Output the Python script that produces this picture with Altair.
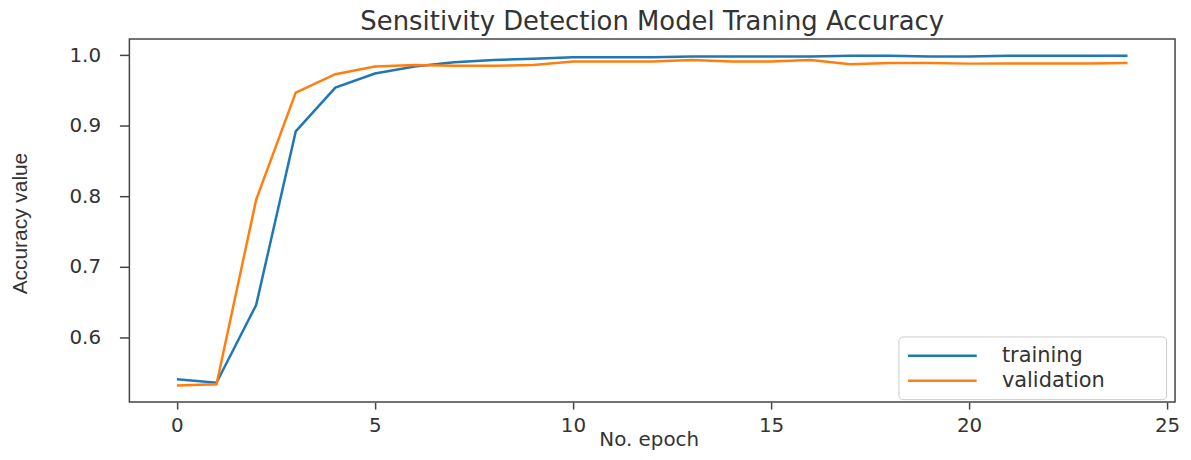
import altair as alt
import pandas as pd

epochs = [0, 1, 2, 3, 4, 5, 6, 7, 8, 9, 10, 11, 12, 13, 14, 15, 16, 17, 18, 19, 20, 21, 22, 23, 24]
training = [0.541, 0.536, 0.646, 0.892, 0.954, 0.974, 0.984, 0.990, 0.993, 0.995,
            0.997, 0.997, 0.997, 0.998, 0.998, 0.998, 0.998, 0.999, 0.999, 0.998,
            0.998, 0.999, 0.999, 0.999, 0.999]
validation = [0.532, 0.534, 0.795, 0.947, 0.973, 0.984, 0.986, 0.985, 0.985, 0.986,
              0.991, 0.991, 0.991, 0.993, 0.991, 0.991, 0.993, 0.987, 0.989, 0.989,
              0.988, 0.988, 0.988, 0.988, 0.989]
series_names = ["training", "validation"]
series_colors = ["#1f77b4", "#ff7f0e"]
x_ticks = [0, 5, 10, 15, 20, 25]
y_ticks = [0.6, 0.7, 0.8, 0.9, 1.0]

df = pd.concat([
    pd.DataFrame({"epoch": epochs, "acc": training, "series": "training"}),
    pd.DataFrame({"epoch": epochs, "acc": validation, "series": "validation"}),
])

TXT = "#333333"
FONT = "DejaVu Sans"
PAD = "\u00a0" * 8 + "\u200b"

chart = alt.Chart(df).mark_line(strokeWidth=2.5).encode(
    x=alt.X("epoch:Q",
            scale=alt.Scale(domain=[-1.2, 25.2], nice=False, zero=False),
            axis=alt.Axis(values=x_ticks, title="No. epoch", grid=False, domain=False,
                          tickSize=7, tickWidth=1.5, tickColor="#444",
                          labelPadding=7, labelFontSize=20, labelFont=FONT, labelColor=TXT,
                          titleFontSize=20, titleFont=FONT, titleColor=TXT,
                          titleFontWeight="normal", titleBaseline="alphabetic",
                          titleY=44, titleX=522)),
    y=alt.Y("acc:Q",
            scale=alt.Scale(domain=[0.5086, 1.0229], nice=False, zero=False),
            axis=alt.Axis(values=y_ticks, format=".1f", title="Accuracy value", grid=False,
                          domain=False, tickSize=10, tickWidth=1.5, tickColor="#444",
                          labelPadding=19, labelFontSize=20, labelFont=FONT, labelColor=TXT,
                          titleFontSize=21, titleFont="Liberation Sans Narrow, Liberation Sans",
                          titleColor=TXT, titleFontWeight="normal", titleAngle=270,
                          titleBaseline="alphabetic", titleAlign="center",
                          titleX=-103, titleY=185)),
    color=alt.Color("series:N",
                    scale=alt.Scale(domain=series_names, range=series_colors),
                    legend=alt.Legend(title=None, orient="none", legendX=773, legendY=299,
                                      symbolType="M-1,0H6", symbolSize=389,
                                      symbolStrokeWidth=2.5, labelOffset=73,
                                      labelFontSize=21, labelFont=FONT, labelColor=TXT,
                                      labelExpr="datum.label + '" + PAD + "'",
                                      labelLimit=300,
                                      rowPadding=3, padding=8, fillColor="white",
                                      strokeColor="#cccccc", cornerRadius=4)),
).properties(
    width=1051,
    height=365,
    title=alt.TitleParams("Sensitivity Detection Model Traning Accuracy",
                          fontSize=26, font=FONT, color=TXT, fontWeight="normal",
                          anchor="middle", baseline="bottom", offset=-22),
    autosize=alt.AutoSizeParams(type="none"),
    padding={"left": 122, "top": 30, "right": 8, "bottom": 49},
).configure_view(stroke="#444", strokeWidth=1.5)

chart.save("out.html", embed_options={"renderer": "svg", "actions": False})
